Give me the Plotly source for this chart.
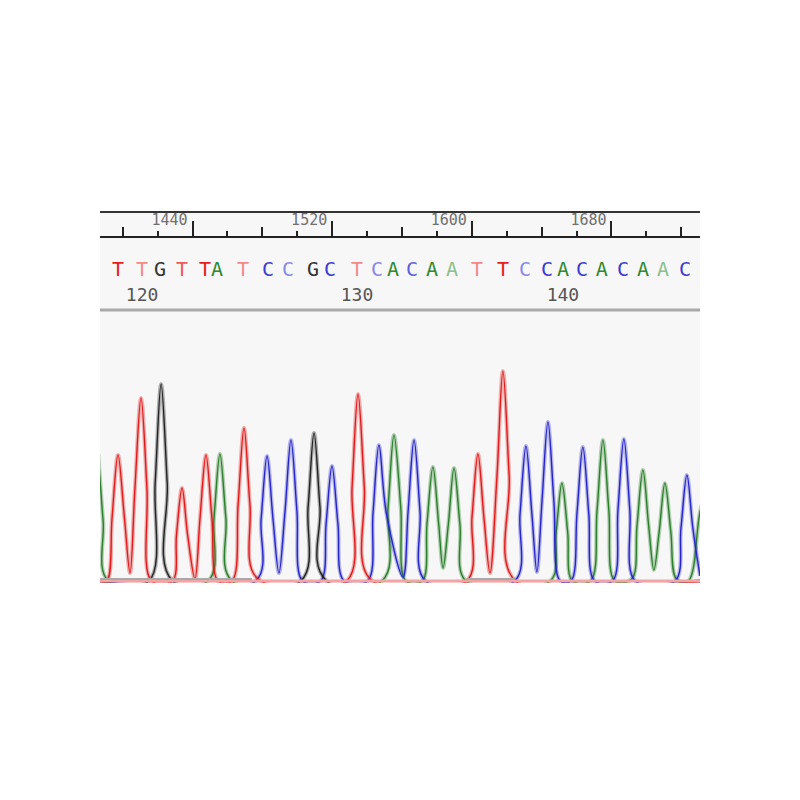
import plotly.graph_objects as go

# ---------------- data (scan units / signal intensity) ----------------
x_range = [1387.0, 1730.7]

# ruler ticks (scan numbers)
ruler_major = [1440, 1520, 1600, 1680]
ruler_mid = [1400, 1480, 1560, 1640, 1720]
ruler_minor = [1420, 1460, 1500, 1540, 1580, 1620, 1660, 1700]

# base calls
call_bases = list("TTGTTATCCGCTCACAATTCCACACAAC")
call_pos = [1397.3, 1411.1, 1421.4, 1434.0, 1447.2, 1454.0, 1468.9, 1483.2, 1494.7,
            1509.0, 1518.7, 1534.2, 1545.7, 1554.8, 1565.7, 1577.2, 1588.6, 1602.9,
            1617.8, 1630.4, 1643.0, 1652.2, 1663.1, 1674.5, 1686.6, 1698.0, 1709.5,
            1722.1]
call_quality = ["hi", "lo", "hi", "mid", "hi", "hi", "lo", "hi", "lo", "hi", "hi", "lo",
                "lo", "hi", "mid", "hi", "lo", "lo", "hi", "lo", "hi", "hi", "hi", "hi",
                "hi", "hi", "lo", "hi"]

# base position numbers
pos_labels = ["120", "130", "140"]
pos_x = [1411.1, 1534.2, 1652.2]

# trace channels: key points (feet, half-heights, peaks, valleys)
red_x = [1387.0, 1391.0, 1393.9, 1397.3, 1401.0, 1404.2, 1407.0, 1410.5, 1413.9, 1416.5,
         1428.5, 1430.8, 1434.0, 1437.2, 1441.4, 1444.3, 1447.7, 1451.1, 1454.6,
         1462.6, 1466.1, 1469.5, 1472.9, 1476.9,
         1528.3, 1531.4, 1534.8, 1538.4, 1541.7,
         1597.0, 1600.1, 1603.5, 1606.9, 1610.4, 1614.4, 1617.8, 1621.4, 1625.0, 1730.7]
red_y = [0, 0, 63, 126, 63, 8, 92, 183, 92, 0,
         0, 46, 93, 46, 2, 63, 126, 63, 0,
         0, 76, 153, 76, 3,
         0, 94, 187, 94, 2,
         0, 64, 127, 64, 8, 105, 210, 105, 0, 0]

black_x = [1387.0, 1415.0, 1418.6, 1422.0, 1425.5, 1428.6,
           1502.0, 1506.2, 1509.6, 1513.0, 1516.8, 1730.7]
black_y = [0, 0, 98, 197, 98, 0,
           0, 74, 148, 74, 0, 0]

green_x = [1386.0, 1388.8, 1391.8,
           1448.9, 1452.3, 1455.7, 1459.1, 1462.6,
           1548.5, 1552.0, 1555.4, 1559.3, 1562.2,
           1571.6, 1574.3, 1577.7, 1581.0, 1583.5, 1586.5, 1589.8, 1593.2, 1596.6,
           1644.9, 1648.3, 1651.6, 1654.9, 1657.6,
           1668.0, 1671.7, 1675.1, 1678.5, 1681.9,
           1691.6, 1694.6, 1698.0, 1701.3, 1704.3, 1707.3, 1710.6, 1714.0, 1717.2,
           1724.0, 1730.7, 1736.4]
green_y = [127, 60, 0,
           0, 63, 127, 63, 0,
           0, 73, 146, 73, 0,
           0, 57, 114, 57, 13, 56, 113, 56, 0,
           0, 49, 98, 49, 0,
           0, 70, 141, 70, 0,
           2, 55, 111, 55, 11, 49, 98, 49, 2,
           0, 69, 105]

blue_x = [1387.0, 1476.2, 1479.3, 1482.7, 1486.1, 1489.5, 1493.0, 1496.4, 1499.8, 1503.0,
          1513.4, 1516.5, 1519.9, 1523.3, 1526.8,
          1540.3, 1543.4, 1546.8, 1551.0, 1560.6, 1563.5, 1566.9, 1570.3, 1573.4,
          1624.6, 1627.6, 1631.0, 1634.4, 1637.3, 1640.2, 1643.6, 1647.0, 1650.6,
          1656.8, 1660.2, 1663.6, 1667.0, 1670.3,
          1680.6, 1683.7, 1687.1, 1690.5, 1693.6,
          1716.4, 1719.8, 1723.2, 1726.6, 1730.7]
blue_y = [0, 0, 62, 125, 62, 8, 70, 141, 70, 0,
          0, 57, 115, 57, 0,
          0, 68, 136, 68, 4, 70, 141, 70, 0,
          0, 67, 135, 67, 9, 80, 159, 80, 0,
          0, 67, 134, 67, 0,
          0, 71, 142, 71, 0,
          0, 53, 106, 53, 5]

# grey baseline segments (black channel baseline showing)
grey_base_x = [1387.0, 1474.0, None, 1597.2, 1624.7]
grey_base_y = [2, 2, None, 2, 2]

# ---------------- styles ----------------
chan_color = {"A": "#2a7f2a", "C": "#2424c8", "G": "#222222", "T": "#e01a1a"}
chan_halo = {"A": "rgba(42,127,42,0.33)", "C": "rgba(36,36,200,0.30)",
             "G": "rgba(34,34,34,0.33)", "T": "rgba(224,26,26,0.33)"}
letter_color = {
    ("T", "hi"): "#e51c1c", ("T", "mid"): "#ec5a5a", ("T", "lo"): "#f28a8a",
    ("C", "hi"): "#3c3cd2", ("C", "mid"): "#5f5fdc", ("C", "lo"): "#8a8ae6",
    ("A", "hi"): "#2f8a2f", ("A", "mid"): "#5aa35a", ("A", "lo"): "#8cbf8c",
    ("G", "hi"): "#333333", ("G", "mid"): "#555555", ("G", "lo"): "#888888",
}

fig = go.Figure()

channels = [("A", green_x, green_y), ("C", blue_x, blue_y),
            ("G", black_x, black_y), ("T", red_x, red_y)]
for base, xs, ys in channels:
    fig.add_trace(go.Scatter(x=xs, y=ys, mode="lines",
                             line=dict(color=chan_halo[base], width=4, shape="spline", smoothing=1.0),
                             hoverinfo="skip", showlegend=False))
    fig.add_trace(go.Scatter(x=xs, y=ys, mode="lines",
                             line=dict(color=chan_color[base], width=1.4, shape="spline", smoothing=1.0),
                             hoverinfo="skip", showlegend=False))

# baselines
fig.add_trace(go.Scatter(x=x_range, y=[0, 0], mode="lines",
                         line=dict(color="#f3a3a3", width=3), hoverinfo="skip", showlegend=False))
fig.add_trace(go.Scatter(x=grey_base_x, y=grey_base_y, mode="lines",
                         line=dict(color="#a9a9a9", width=2), hoverinfo="skip", showlegend=False))

# base call letters
fig.add_trace(go.Scatter(
    x=call_pos, y=[59] * len(call_pos), yaxis="y2", mode="text", text=call_bases,
    textfont=dict(family="DejaVu Sans Mono", size=20,
                  color=[letter_color[(b, q)] for b, q in zip(call_bases, call_quality)]),
    hoverinfo="skip", showlegend=False))
# position numbers
fig.add_trace(go.Scatter(
    x=pos_x, y=[84] * len(pos_x), yaxis="y2", mode="text", text=pos_labels,
    textfont=dict(family="DejaVu Sans Mono", size=18, color="#555555"),
    hoverinfo="skip", showlegend=False))

# dummy traces so the ruler axes are drawn
fig.add_trace(go.Scatter(x=ruler_major, y=[-50] * len(ruler_major), xaxis="x2",
                         mode="markers", marker=dict(opacity=0), hoverinfo="skip", showlegend=False))
fig.add_trace(go.Scatter(x=ruler_mid, y=[-50] * len(ruler_mid), xaxis="x3",
                         mode="markers", marker=dict(opacity=0), hoverinfo="skip", showlegend=False))

# page body has an 8 px margin: plot area should land at x 100..700, y 212..583
OFF = 8
top_px, bot_px = 212, 583
H = bot_px - top_px
trace_top = (bot_px - 313) / H
ruler_pos = (bot_px - 237) / H
sep_pos = (bot_px - 310) / H

fig.update_layout(
    width=792, height=792,
    margin=dict(l=100 - OFF, r=792 - (700 - OFF), t=top_px - OFF, b=792 - (bot_px - OFF), pad=0),
    paper_bgcolor="white", plot_bgcolor="#f7f7f7",
    showlegend=False,
    xaxis=dict(range=x_range, visible=False, showgrid=False, zeroline=False),
    yaxis=dict(range=[-2, 268], domain=[0, trace_top], visible=False,
               showgrid=False, zeroline=False),
    yaxis2=dict(range=[101, 0], domain=[trace_top, 1], visible=False,
                showgrid=False, zeroline=False, anchor="x"),
    xaxis2=dict(range=x_range, overlaying="x", anchor="free", position=ruler_pos,
                side="top", showgrid=False, zeroline=False,
                showline=True, linecolor="#222222", linewidth=2,
                tickmode="array", tickvals=ruler_major,
                ticktext=[str(v) for v in ruler_major],
                ticks="outside", ticklen=15, tickwidth=2, tickcolor="#222222",
                tickfont=dict(family="DejaVu Sans Mono", size=15, color="#707070"),
                ticklabelshift=-23, ticklabelstandoff=-10,
                minor=dict(tickvals=ruler_minor, ticks="outside", ticklen=5,
                           tickwidth=2, tickcolor="#222222", showgrid=False)),
    xaxis3=dict(range=x_range, overlaying="x", anchor="free", position=ruler_pos,
                side="top", showgrid=False, zeroline=False, showline=False,
                tickmode="array", tickvals=ruler_mid, showticklabels=False,
                ticks="outside", ticklen=10, tickwidth=2, tickcolor="#222222"),
    shapes=[
        dict(type="line", xref="paper", yref="paper", x0=0, x1=1, y0=1, y1=1,
             line=dict(color="#333333", width=2)),
        dict(type="line", xref="paper", yref="paper", x0=0, x1=1, y0=sep_pos, y1=sep_pos,
             line=dict(color="#aaaaaa", width=3)),
    ],
)

fig.write_html("out.html")
